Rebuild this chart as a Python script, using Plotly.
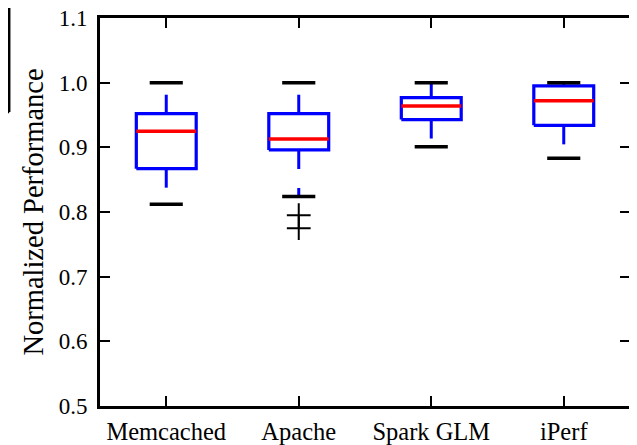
import plotly.graph_objects as go

categories = ["Memcached", "Apache", "Spark GLM", "iPerf"]
q1 = [0.867, 0.896, 0.943, 0.934]
median = [0.925, 0.913, 0.964, 0.972]
q3 = [0.952, 0.952, 0.977, 0.995]
whisker_low = [0.812, 0.824, 0.901, 0.883]
whisker_high = [1.0, 1.0, 1.0, 1.0]
fliers = [[], [0.795, 0.775], [], []]
y_ticks = [0.5, 0.6, 0.7, 0.8, 0.9, 1.0, 1.1]

BOX_HW = 0.226
CAP_HW = 0.125
FONT = "Liberation Serif"

fig = go.Figure()
for i, cat in enumerate(categories):
    x = i + 1
    # box outline
    fig.add_trace(go.Scatter(
        x=[x - BOX_HW, x + BOX_HW, x + BOX_HW, x - BOX_HW, x - BOX_HW],
        y=[q1[i], q1[i], q3[i], q3[i], q1[i]],
        mode="lines", line=dict(color="#0000ff", width=3.2),
        hoverinfo="skip", showlegend=False))
    # whiskers (dashed, drawn from box outward)
    fig.add_trace(go.Scatter(
        x=[x, x], y=[q3[i], whisker_high[i]], mode="lines",
        line=dict(color="#0000ff", width=3, dash="19px,19px"),
        hoverinfo="skip", showlegend=False))
    fig.add_trace(go.Scatter(
        x=[x, x], y=[q1[i], whisker_low[i]], mode="lines",
        line=dict(color="#0000ff", width=3, dash="19px,19px"),
        hoverinfo="skip", showlegend=False))
    # caps
    for yv in (whisker_high[i], whisker_low[i]):
        fig.add_trace(go.Scatter(
            x=[x - CAP_HW, x + CAP_HW], y=[yv, yv], mode="lines",
            line=dict(color="black", width=3.5),
            hoverinfo="skip", showlegend=False))
    # median
    fig.add_trace(go.Scatter(
        x=[x - BOX_HW, x + BOX_HW], y=[median[i], median[i]], mode="lines",
        line=dict(color="#ff0000", width=3.5),
        hoverinfo="skip", showlegend=False))
    # fliers
    if fliers[i]:
        fig.add_trace(go.Scatter(
            x=[x] * len(fliers[i]), y=fliers[i], mode="markers",
            marker=dict(symbol="cross-thin", size=17,
                        line=dict(color="black", width=2)),
            hoverinfo="skip", showlegend=False))

# the page body has an 8px margin, so the figure is laid out 8px smaller
OFF = 8
W, L, R = 637 - OFF, 100 - OFF, 7
H, T, B = 445 - OFF, 18 - OFF, 39
pw, ph = W - L - R, H - T - B
def px(xp):
    return (xp - L) / pw
def py(yp):
    return (H - B - yp) / ph
# fragment of neighbouring panel frame at the top-left edge (figure coords)
for (x0, y0, x1, y1) in [(1.2, -2, 1.2, 112 - OFF),
                         (-2, 43 - OFF, 1.2, 43 - OFF),
                         (-2, 112 - OFF, 1.2, 112 - OFF)]:
    fig.add_shape(type="line", xref="paper", yref="paper",
                  x0=px(x0), y0=py(y0), x1=px(x1), y1=py(y1),
                  line=dict(color="black", width=2.5))

fig.update_layout(
    width=W, height=H,
    margin=dict(l=L, r=R, t=T, b=B, autoexpand=False),
    plot_bgcolor="white", paper_bgcolor="white",
    font=dict(family=FONT, color="black", size=23),
)
fig.update_xaxes(
    range=[0.5, 4.5], tickvals=[1, 2, 3, 4], ticktext=categories,
    showline=True, linecolor="black", linewidth=3, mirror="ticks",
    ticks="inside", ticklen=10, tickwidth=1.5, tickcolor="black",
    showgrid=False, zeroline=False, tickfont=dict(size=24.5, family=FONT),
    automargin=False, ticklabelstandoff=2, ticklabeloverflow="allow",
)
fig.update_yaxes(
    range=[0.5, 1.1], tickvals=y_ticks, tickformat=".1f",
    showline=True, linecolor="black", linewidth=3, mirror="ticks",
    ticks="inside", ticklen=10, tickwidth=1.5, tickcolor="black",
    showgrid=False, zeroline=False, tickfont=dict(size=23, family=FONT),
    automargin=False, ticklabelstandoff=5, ticklabeloverflow="allow",
    title=dict(text="Normalized Performance", font=dict(size=28.5, family=FONT),
               standoff=7),
)

fig.write_html("out.html")
